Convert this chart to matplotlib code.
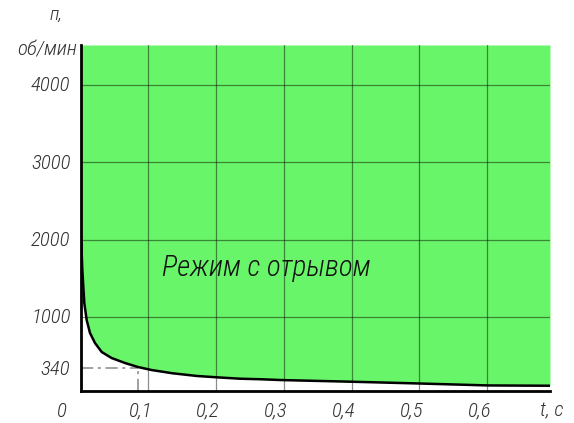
import matplotlib
matplotlib.use("Agg")
import matplotlib.pyplot as plt
from matplotlib import font_manager
from matplotlib.transforms import ScaledTranslation
import numpy as np

# ---- data ----
t_vals = [0.0007, 0.0027, 0.0056, 0.0091, 0.014, 0.0214, 0.0313, 0.046, 0.0656,
          0.0848, 0.105, 0.136, 0.172, 0.201, 0.235, 0.269, 0.294, 0.40, 0.50,
          0.601, 0.6925]
n_vals = [2060, 1607, 1181, 961, 793, 663, 547, 469, 405,
          353, 314, 272, 237, 220, 202, 194, 185, 163, 140,
          115, 111]
x_ticks = [0.1, 0.2, 0.3, 0.4, 0.5, 0.6]
x_labels = ["0,1", "0,2", "0,3", "0,4", "0,5", "0,6"]
y_ticks = [1000, 2000, 3000, 4000]
y_labels = ["1000", "2000", "3000", "4000"]
n_mark = 340
t_mark = 0.0848
region_label = "Режим с отрывом"
x_axis_label = "t, c"
y_axis_label_1 = "п,"
y_axis_label_2 = "об/мин"

# ---- font ----
def pick_font(cands):
    for c in cands:
        try:
            font_manager.findfont(c, fallback_to_default=False)
            return c
        except Exception:
            pass
    return "DejaVu Sans"

fam = pick_font(["Liberation Sans Narrow", "Roboto Condensed", "Liberation Sans"])
plt.rcParams["font.family"] = [fam, "DejaVu Sans"]
plt.rcParams["font.style"] = "italic"
plt.rcParams["font.weight"] = 300

W, H = 574, 423
fig = plt.figure(figsize=(W / 100, H / 100), dpi=100)
x0, x1, ytop, ybot = 80.5, 550, 45, 391
ax = fig.add_axes([x0 / W, (H - ybot) / H, (x1 - x0) / W, (ybot - ytop) / H])

XMAX = 0.6925
YMIN, YMAX = 43, 4517
ax.set_xlim(0, XMAX)
ax.set_ylim(YMIN, YMAX)

green = "#69f569"
ax.fill_between(t_vals, n_vals, YMAX, color=green, zorder=1, linewidth=0)
ax.plot(t_vals, n_vals, color="black", linewidth=1.8, zorder=4, solid_capstyle="butt")

# grid
for xv in x_ticks:
    ax.axvline(xv, color="black", alpha=0.45, linewidth=0.9, zorder=2)
for yv in y_ticks:
    ax.axhline(yv, color="black", alpha=0.45, linewidth=0.9, zorder=2)

# dash-dot marker lines
ax.plot([0, t_mark], [n_mark, n_mark], color="#888888", linewidth=1.1,
        linestyle=(0, (8, 3, 2, 3)), zorder=3)
ax.plot([t_mark, t_mark], [YMIN, n_mark], color="#888888", linewidth=1.1,
        linestyle=(0, (8, 3, 2, 3)), zorder=3)

for s in ["top", "right"]:
    ax.spines[s].set_visible(False)
for s in ["left", "bottom"]:
    ax.spines[s].set_linewidth(2)
    ax.spines[s].set_color("black")
    ax.spines[s].set_zorder(5)
ax.set_xticks([])
ax.set_yticks([])

fs = 15
tcol = "#333333"
xt = ax.get_xaxis_transform()
yt = ax.get_yaxis_transform()
def off(dx, dy):
    return ScaledTranslation(dx / 100, dy / 100, fig.dpi_scale_trans)

ybase = -20
for xv, lab in zip(x_ticks, x_labels):
    ax.text(xv, 0, lab, transform=xt + off(-8, ybase), ha="center", va="center",
            fontsize=fs, color=tcol, clip_on=False)
ax.text(0, 0, "0", transform=xt + off(-19, ybase), ha="center", va="center",
        fontsize=fs, color=tcol)
ax.text(1, 0, x_axis_label, transform=ax.transAxes + off(2, ybase), ha="center",
        va="center", fontsize=fs, color=tcol)

for yv, lab in zip(y_ticks + [n_mark], y_labels + [str(n_mark)]):
    ax.text(0, yv, lab, transform=yt + off(-10, -1), ha="right", va="center",
            fontsize=fs, color=tcol)

ax.text(0, 1, y_axis_label_2, transform=ax.transAxes + off(-3, -5), ha="right",
        va="center", fontsize=fs, color=tcol)
ax.text(0, 1, y_axis_label_1, transform=ax.transAxes + off(-24, 30), ha="center",
        va="center", fontsize=fs - 1, color=tcol)

ax.text(0.274, 1633, region_label, ha="center", va="center", fontsize=21,
        color="#111111")

fig.savefig("out.png", dpi=100)
